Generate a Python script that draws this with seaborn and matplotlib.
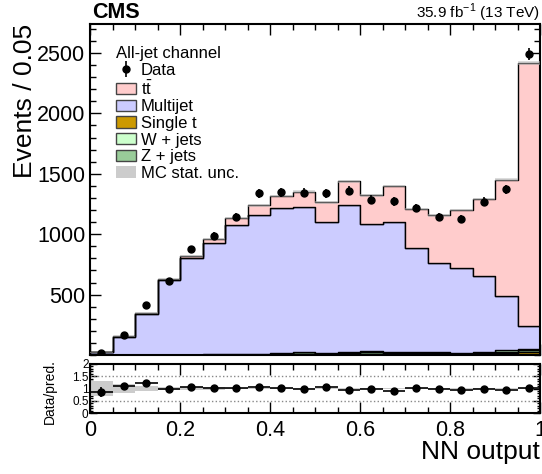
import numpy as np
import pandas as pd
import matplotlib.pyplot as plt
import seaborn as sns
from matplotlib.patches import Patch
from matplotlib.ticker import MultipleLocator

# bins of the NN output (20 bins of 0.05)
edges = np.linspace(0, 1, 21)
centers = 0.5 * (edges[1:] + edges[:-1])

data = [19, 167, 417, 613, 875, 986, 1144, 1338, 1347, 1342,
        1338, 1361, 1286, 1272, 1217, 1142, 1125, 1269, 1372, 2494]
ttbar = [1, 2, 4, 6, 19, 33, 55, 75, 104, 130,
         166, 196, 234, 295, 320, 394, 486, 637, 958, 2179]
multijet = [21, 152, 342, 618, 799, 925, 1070, 1153, 1200, 1196,
            1084, 1214, 1059, 1083, 867, 739, 698, 632, 454, 186]
single_t = [0, 0, 0, 0, 1, 1, 2, 2, 3, 3, 4, 5, 5, 6, 8, 8, 10, 12, 16, 22]
wjets = [0, 0, 0, 0, 1, 1, 1, 2, 2, 3, 3, 8, 4, 4, 3, 6, 3, 5, 12, 8]
zjets = [0, 0, 0, 1, 2, 3, 5, 6, 8, 20, 6, 15, 20, 12, 10, 8, 6, 6, 10, 22]
mc_rel_unc = [0.30, 0.17, 0.12, 0.05, 0.05, 0.05, 0.04, 0.04, 0.04, 0.04,
              0.04, 0.04, 0.04, 0.04, 0.04, 0.04, 0.04, 0.04, 0.04, 0.03]

labels = ["t$\\bar{\\rm t}$", "Multijet", "Single t", "W + jets", "Z + jets"]
colors = ["#ffcccc", "#ccccff", "#cc9900", "#ccffcc", "#99cc99"]

sns.set_style("ticks")
plt.rcParams["font.family"] = ["Liberation Sans", "DejaVu Sans"]
plt.rcParams["mathtext.fontset"] = "custom"
plt.rcParams["mathtext.rm"] = "Liberation Sans"
for key in ["text.color", "axes.labelcolor", "xtick.color", "ytick.color", "axes.edgecolor"]:
    plt.rcParams[key] = "black"

# long table for the stacked histogram
rows = []
for name, vals in zip(labels, [ttbar, multijet, single_t, wjets, zjets]):
    for c, v in zip(centers, vals):
        rows.append({"x": float(c), "w": float(v), "process": name})
df = pd.DataFrame(rows)

fig = plt.figure(figsize=(5.42, 4.74), dpi=100)
ax = fig.add_axes([90 / 542, 1 - 355 / 474, 450 / 542, 331 / 474])
rax = fig.add_axes([90 / 542, 1 - 413 / 474, 450 / 542, 49 / 474])

# first hue level ends up on top of the stack
hue_order = [labels[0], labels[1], labels[3], labels[4], labels[2]]
sns.histplot(data=df, x="x", weights="w", hue="process", hue_order=hue_order,
             palette=dict(zip(labels, colors)), binwidth=0.05, binrange=(0, 1),
             multiple="stack", element="step", fill=True, alpha=1,
             edgecolor="black", linewidth=1.0, legend=False, ax=ax)

total = np.array(ttbar) + np.array(multijet) + np.array(single_t) + np.array(wjets) + np.array(zjets)
unc = total * np.array(mc_rel_unc) * 0.2
ax.stairs(total + unc, edges, baseline=total - unc, fill=True, color="#bbbbbb", alpha=0.5, zorder=3)

data_arr = np.array(data)
eb = ax.errorbar(centers, data_arr, yerr=np.sqrt(data_arr), fmt="o", color="black",
                 markersize=5, elinewidth=1.2, capsize=0, zorder=5)

ax.set_xlim(0, 1)
ax.set_ylim(0, 2740)
ax.set_xlabel("")
ax.set_ylabel("")
ax.set_yticks([500, 1000, 1500, 2000, 2500])
ax.yaxis.set_minor_locator(MultipleLocator(100))
ax.xaxis.set_major_locator(MultipleLocator(0.2))
ax.xaxis.set_minor_locator(MultipleLocator(0.05))
ax.tick_params(axis="both", which="both", direction="in", top=True, right=True, labelsize=15.5)
ax.tick_params(axis="both", which="major", length=8, width=1)
ax.tick_params(axis="both", which="minor", length=4, width=1)
ax.tick_params(axis="x", labelbottom=False)
for s in ax.spines.values():
    s.set_linewidth(1.5)

handles = [eb] + [Patch(facecolor=c, edgecolor="#444444", linewidth=1) for c in colors] \
          + [Patch(facecolor="#cccccc", edgecolor="none")]
names = ["Data"] + labels + ["MC stat. unc."]
leg = ax.legend(handles, names, title="All-jet channel", loc="upper left",
                bbox_to_anchor=(26 / 450, 1 - 22 / 331), frameon=False, fontsize=12,
                title_fontsize=12, borderpad=0, borderaxespad=0, labelspacing=0.1,
                handlelength=1.2, handleheight=0.65, handletextpad=0.3, alignment="left")

# ratio panel
ratio = data_arr / total
rel = np.array(mc_rel_unc)
rax.stairs(1 + rel, edges, baseline=1 - rel, fill=True, color="#cccccc", zorder=1)
rax.errorbar(centers, ratio, xerr=0.025, yerr=np.sqrt(data_arr) / total, fmt="o",
             color="black", markersize=5, elinewidth=1.2, capsize=0, zorder=5)
for yv in [0.5, 1.5]:
    rax.axhline(yv, color="#888888", linestyle=":", linewidth=1)
rax.set_xlim(0, 1)
rax.set_ylim(0, 2)
rax.set_yticks([0, 0.5, 1, 1.5, 2])
rax.set_yticklabels(["0", "0.5", "1", "1.5", "2"])
rax.yaxis.set_minor_locator(MultipleLocator(0.1))
rax.xaxis.set_minor_locator(MultipleLocator(0.05))
rax.set_xticks([0, 0.2, 0.4, 0.6, 0.8, 1.0])
rax.set_xticklabels(["0", "0.2", "0.4", "0.6", "0.8", "1"])
rax.tick_params(axis="both", which="both", direction="in", top=True, right=True)
rax.tick_params(axis="x", which="major", length=8, width=1, labelsize=15.5, pad=5)
rax.tick_params(axis="x", which="minor", length=4, width=1)
rax.tick_params(axis="y", which="major", length=5, width=1, labelsize=8.5, pad=1)
rax.tick_params(axis="y", which="minor", length=2.5, width=1)
for s in rax.spines.values():
    s.set_linewidth(1.5)

fig.text(25 / 542, 1 - 24 / 474, "Events / 0.05", rotation=90, ha="center", va="top", fontsize=19)
fig.text(50 / 542, 1 - 392 / 474, "Data/pred.", rotation=90, ha="center", va="center", fontsize=10)
fig.text(540 / 542, 1 - 459 / 474, "NN output", ha="right", va="baseline", fontsize=19)
fig.text(92 / 542, 1 - 18 / 474, "CMS", ha="left", va="baseline", fontsize=15.5, fontweight="bold")
fig.text(540 / 542, 1 - 18 / 474, "35.9 fb$^{-1}$ (13 TeV)", ha="right", va="baseline", fontsize=11)

fig.savefig("out.png", dpi=100)
